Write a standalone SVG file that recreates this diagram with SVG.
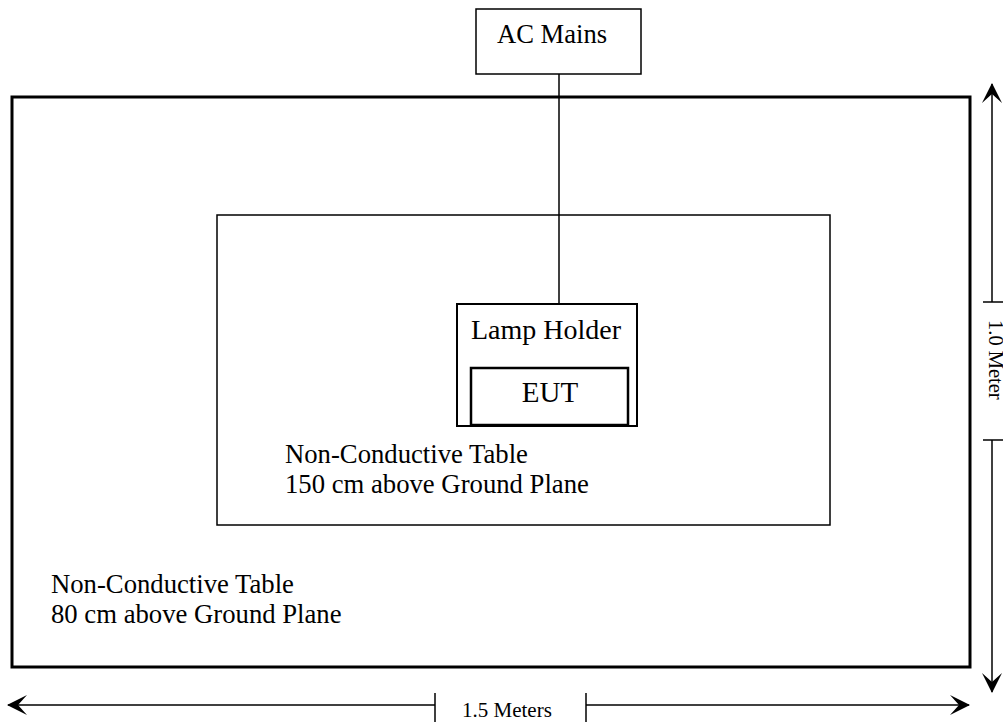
<svg xmlns="http://www.w3.org/2000/svg" width="1003" height="724" viewBox="0 0 1003 724">
<style>
text{font-family:"Liberation Serif","Times New Roman",serif;fill:#000}
.box{fill:#fff;stroke:#000}
.ln{stroke:#000;stroke-width:1.5;fill:none}
</style>
<defs>
<marker id="ah" viewBox="0 0 20 20" refX="19" refY="10" markerWidth="20" markerHeight="20" markerUnits="userSpaceOnUse" orient="auto-start-reverse">
<path d="M0,0 L20,10 L0,20 L9,10 Z" fill="#000"/>
</marker>
</defs>
<g id="ground-table">
<rect class="box" x="12" y="97" width="958" height="570" stroke-width="3"/>
<text x="51" y="593" font-size="26.7">Non-Conductive Table</text>
<text x="51" y="623" font-size="26.7">80 cm above Ground Plane</text>
</g>
<g id="inner-table">
<rect class="box" x="217" y="215" width="613" height="310" stroke-width="1.5"/>
<text x="285" y="463" font-size="26.7">Non-Conductive Table</text>
<text x="285" y="493" font-size="26.7">150 cm above Ground Plane</text>
</g>
<g id="connectors">
<line class="ln" x1="559" y1="74" x2="559" y2="304"/>
</g>
<g id="ac-mains">
<rect class="box" x="476" y="9" width="165" height="65" stroke-width="1.5"/>
<text x="497" y="43" font-size="26.6">AC Mains</text>
</g>
<g id="lamp-holder">
<rect class="box" x="457" y="304" width="180" height="122" stroke-width="2"/>
<text x="471" y="339" font-size="28">Lamp Holder</text>
</g>
<g id="eut">
<rect class="box" x="471" y="368" width="157" height="57" stroke-width="2.5"/>
<text x="550" y="402" font-size="29" text-anchor="middle">EUT</text>
</g>
<g id="dimensions">
<line class="ln" x1="992" y1="302" x2="992" y2="84" marker-end="url(#ah)"/>
<line class="ln" x1="983" y1="302" x2="1003" y2="302"/>
<line class="ln" x1="992" y1="440" x2="992" y2="692" marker-end="url(#ah)"/>
<line class="ln" x1="983" y1="440" x2="1003" y2="440"/>
<text transform="translate(989,320) rotate(90)" font-size="20.5">1.0 Meter</text>
<line class="ln" x1="435" y1="705" x2="8" y2="705" marker-end="url(#ah)"/>
<line class="ln" x1="435" y1="693" x2="435" y2="722"/>
<line class="ln" x1="586" y1="705" x2="969" y2="705" marker-end="url(#ah)"/>
<line class="ln" x1="586" y1="693" x2="586" y2="722"/>
<text x="462" y="717" font-size="21">1.5 Meters</text>
</g>
</svg>
